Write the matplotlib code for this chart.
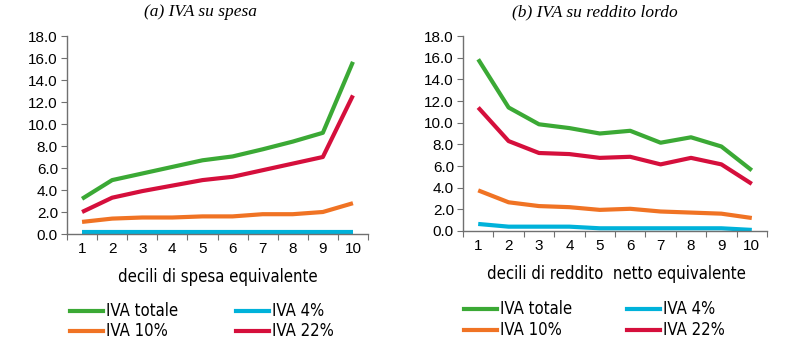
import matplotlib
matplotlib.use("Agg")
import matplotlib.pyplot as plt
from matplotlib.lines import Line2D

deciles = [1, 2, 3, 4, 5, 6, 7, 8, 9, 10]
xlabels = ["1", "2", "3", "4", "5", "6", "7", "8", "9", "10"]
yticks = [0, 2, 4, 6, 8, 10, 12, 14, 16, 18]

# (a) IVA su spesa
a_totale = [3.2, 4.9, 5.5, 6.1, 6.7, 7.05, 7.7, 8.4, 9.2, 15.65]
a_4 = [0.2, 0.2, 0.2, 0.2, 0.2, 0.2, 0.2, 0.2, 0.2, 0.2]
a_10 = [1.1, 1.4, 1.5, 1.5, 1.6, 1.6, 1.8, 1.8, 2.0, 2.8]
a_22 = [2.0, 3.3, 3.9, 4.4, 4.9, 5.2, 5.8, 6.4, 7.0, 12.6]

# (b) IVA su reddito lordo
b_totale = [15.85, 11.4, 9.85, 9.5, 9.0, 9.25, 8.15, 8.65, 7.8, 5.6]
b_4 = [0.65, 0.4, 0.4, 0.4, 0.25, 0.25, 0.25, 0.25, 0.25, 0.1]
b_10 = [3.75, 2.65, 2.3, 2.2, 1.95, 2.05, 1.8, 1.7, 1.6, 1.2]
b_22 = [11.4, 8.3, 7.2, 7.1, 6.75, 6.85, 6.15, 6.75, 6.15, 4.35]

names = ["IVA totale", "IVA 4%", "IVA 10%", "IVA 22%"]
colors = ["#3BA935", "#00B2DA", "#F07324", "#D50F3C"]

W, H = 798, 348
fig = plt.figure(figsize=(W / 100, H / 100), dpi=100)

narrow = dict(family=["DejaVu Sans"], stretch="condensed")
sans = ["Liberation Sans", "DejaVu Sans"]
serif = ["Liberation Serif", "DejaVu Serif"]

def make_ax(l, r, t, b):
    return fig.add_axes([l / W, 1 - b / H, (r - l) / W, (b - t) / H])

panels = [
    (make_ax(67, 368, 36, 234), [a_totale, a_4, a_10, a_22],
     "(a) IVA su spesa", 200, "decili di spesa equivalente", 218, 277,
     (70, 236), (311, 331)),
    (make_ax(463, 767, 36, 231), [b_totale, b_4, b_10, b_22],
     "(b) IVA su reddito lordo", 595, "decili di reddito  netto equivalente", 616, 274,
     (464, 627), (309, 330)),
]

for ax, series, title, tx, xl, xlx, xly, lcols, lrows in panels:
    for vals, c, n in zip(series, colors, names):
        ax.plot(deciles, vals, color=c, lw=3.0, solid_capstyle="butt", label=n)
    ax.set_xlim(0.5, 10.5)
    ax.set_ylim(0, 18)
    ax.set_yticks(yticks)
    ax.set_yticklabels([f"{v:.1f}" for v in yticks], fontfamily=sans, fontsize=11)
    ax.set_xticks([x + 0.5 for x in range(0, 11)])
    ax.set_xticklabels([])
    ax.set_xticks(deciles, minor=True)
    ax.set_xticklabels(xlabels, minor=True, fontfamily=sans, fontsize=11)
    ax.tick_params(axis="x", which="minor", length=0, pad=6)
    ax.tick_params(axis="x", which="major", length=4.5, color="#707070")
    ax.tick_params(axis="y", length=4.5, color="#707070", pad=2)
    for s in ["top", "right"]:
        ax.spines[s].set_visible(False)
    for s in ["left", "bottom"]:
        ax.spines[s].set_color("#707070")
        ax.spines[s].set_linewidth(1.0)
    fig.text(tx / W, 1 - 12 / H, title, ha="center", va="center",
             fontfamily=serif, style="italic", fontsize=12.5)
    fig.text(xlx / W, 1 - xly / H, xl, ha="center", va="center",
             fontsize=12, **narrow)
    # legend entries: column-major (totale, 10%) then (4%, 22%)
    order = [0, 2, 1, 3]
    for k, idx in enumerate(order):
        cx = lcols[k // 2]
        cy = lrows[k % 2]
        fig.add_artist(Line2D([cx / W, (cx + 33) / W], [1 - cy / H, 1 - cy / H],
                              color=colors[idx], lw=3.0, transform=fig.transFigure))
        fig.text((cx + 36) / W, 1 - cy / H, names[idx], ha="left", va="center",
                 fontsize=12, **narrow)

fig.savefig("out.png", dpi=100)
